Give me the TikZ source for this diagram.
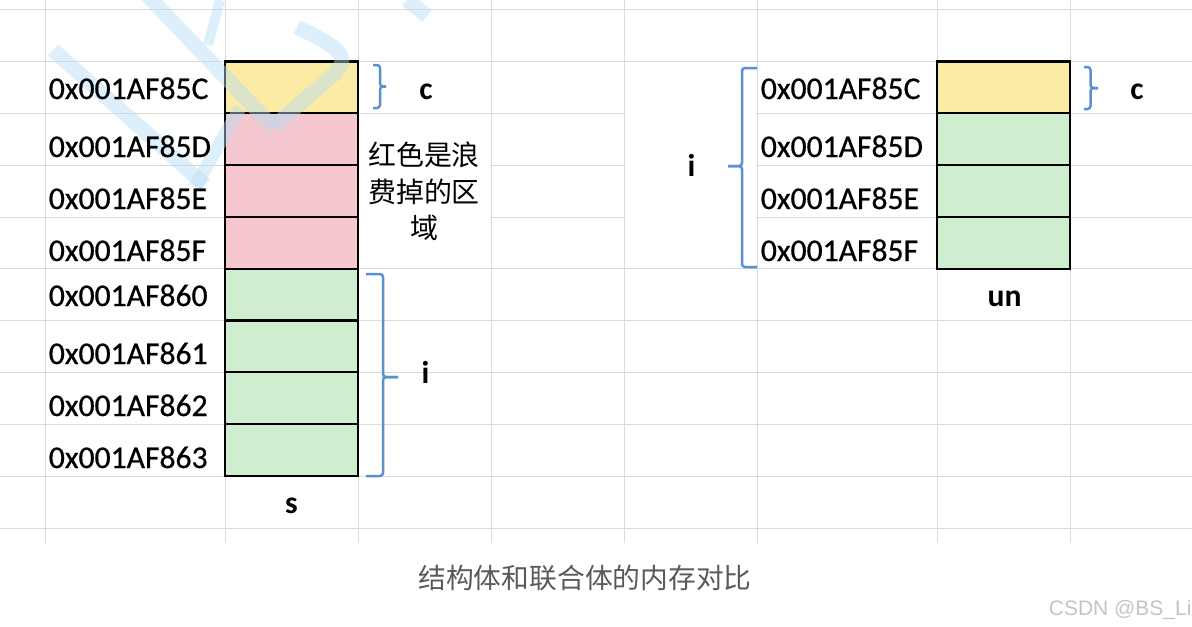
\documentclass[tikz,border=0pt]{standalone}
\usepackage{fontspec}
\setmainfont{Carlito}
\newfontfamily\addrfont{Carlito}[FakeBold=0.6]
\newfontfamily\cjkfont{Noto Sans CJK SC}
\newfontfamily\markfont{Liberation Sans}
\definecolor{gridline}{HTML}{DADADA}
\definecolor{cellyel}{HTML}{FCEBA5}
\definecolor{cellred}{HTML}{F5C7CE}
\definecolor{cellgrn}{HTML}{CFEECF}
\definecolor{bracecol}{HTML}{5B8FD1}
\definecolor{wmblue}{HTML}{B4DCF5}
\definecolor{captiongray}{HTML}{5A5A5A}
\definecolor{markgray}{HTML}{C4C4C4}
\tikzset{
  cell/.style={draw=black, line width=0.045cm, minimum width=2.66cm, minimum height=1.036cm, inner sep=0pt},
  addr/.style={anchor=base west, inner sep=0pt, font=\addrfont\fontsize{18}{21}\selectfont},
  lbl/.style={anchor=base, inner sep=0pt, font=\fontsize{18}{21}\selectfont\bfseries},
  brc/.style={draw=bracecol, line width=0.05cm, rounded corners=0.06cm},
}

\begin{document}
\begin{tikzpicture}[x=0.02cm, y=-0.02cm]
  \useasboundingbox (0,0) rectangle (1192,626);

  % sheet grid
  \foreach \gx in {45,225,358,491,624,757,937,1070}
    \draw[gridline, line width=0.02cm] (\gx,0) -- (\gx,543);
  \foreach \gy in {9,61.5,113,165,217,268.5,320,372.5,424,476,528}
    \draw[gridline, line width=0.02cm] (0,\gy) -- (1192,\gy);
  \fill[white] (359,114) rectangle (490,267);
  \fill[white] (625,63) rectangle (756,267);

  % struct s
  \foreach \k/\col in {0/cellyel,1/cellred,2/cellred,3/cellred,4/cellgrn,5/cellgrn,6/cellgrn,7/cellgrn}
    \node[cell, fill=\col] (s\k) at (291.5,{87.4+51.8*\k}) {};

  % union un
  \foreach \k/\col in {0/cellyel,1/cellgrn,2/cellgrn,3/cellgrn}
    \node[cell, fill=\col] (u\k) at (1003.5,{87.4+51.8*\k}) {};

  % watermark strokes
  \begin{scope}[draw=wmblue, opacity=0.45, line width=0.3cm]
    \draw (53,50) -- (205,185);
    \draw[line width=0.26cm] (240,108) -- (195,187);
    \draw (147,-5) -- (273,127);
    \draw (273,127) -- (333,75) .. controls (350,58) and (345,50) .. (297,27);
    \draw[line width=0.2cm] (220,0) -- (208,45);
    \draw (407,0) -- (427,16);
  \end{scope}

  % addresses
  \foreach \k/\adr/\by in {0/0x001AF85C/99,1/0x001AF85D/157,2/0x001AF85E/209,3/0x001AF85F/261,
                           4/0x001AF860/306,5/0x001AF861/364,6/0x001AF862/416,7/0x001AF863/468}
    \node[addr] (sa\k) at (48.5,\by) {\adr};
  \foreach \k/\adr/\by in {0/0x001AF85C/99,1/0x001AF85D/157,2/0x001AF85E/209,3/0x001AF85F/261}
    \node[addr] (ua\k) at (760.5,\by) {\adr};

  % braces
  \coordinate (scTop) at (373,65);   \coordinate (scBot) at (373,108);
  \coordinate (siTop) at (366,274);  \coordinate (siBot) at (366,476);
  \coordinate (uiTop) at (757,68);   \coordinate (uiBot) at (757,267);
  \coordinate (ucTop) at (1084,67);  \coordinate (ucBot) at (1084,109);
  \draw[brc] (scTop) -- ++(7,0) -- ++(0,21.5) -- ++(6,0);
  \draw[brc] (scBot) -- ++(7,0) -- ++(0,-21.5) -- ++(6,0);
  \draw[brc] (siTop) -- ++(17,0) -- ++(0,103) -- ++(15,0);
  \draw[brc] (siBot) -- ++(17,0) -- ++(0,-99) -- ++(15,0);
  \draw[brc] (uiTop) -- ++(-15,0) -- ++(0,98) -- ++(-14,0);
  \draw[brc] (uiBot) -- ++(-15,0) -- ++(0,-101) -- ++(-14,0);
  \draw[brc] (ucTop) -- ++(6.5,0) -- ++(0,21) -- ++(7.5,0);
  \draw[brc] (ucBot) -- ++(6.5,0) -- ++(0,-21) -- ++(7.5,0);

  % member names
  \node[lbl] (sc) at (426,99) {c};
  \node[lbl] (si) at (425.5,383) {i};
  \node[lbl] (sname) at (291.5,513) {s};
  \node[lbl] (ui) at (691.5,176) {i};
  \node[lbl] (uc) at (1137,99) {c};
  \node[lbl] (uname) at (1004.5,306) {un};

  % notes
  \node[font=\cjkfont\fontsize{15.9}{20.9}\selectfont, align=center, inner sep=0pt] (waste) at (424,191.5) {红色是浪\\费掉的区\\域};
  \node[font=\cjkfont\fontsize{15.8}{18}\selectfont, text=captiongray, inner sep=0pt] (caption) at (585,578) {结构体和联合体的内存对比};
  \node[font=\markfont\fontsize{11.95}{14}\selectfont, text=markgray, anchor=base west, inner sep=0pt] (mark) at (1048.5,615) {CSDN @BS\_Li};
\end{tikzpicture}
\end{document}
